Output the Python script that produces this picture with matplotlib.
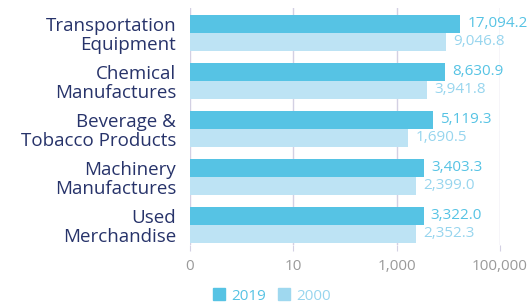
import matplotlib
matplotlib.use("Agg")
import matplotlib.pyplot as plt
from matplotlib.patches import Patch
import numpy as np

categories = ["Transportation\nEquipment", "Chemical\nManufactures", "Beverage &\nTobacco Products",
              "Machinery\nManufactures", "Used\nMerchandise"]
v2019 = [17094.2, 8630.9, 5119.3, 3403.3, 3322.0]
v2000 = [9046.8, 3941.8, 1690.5, 2399.0, 2352.3]
ticks = [0.1, 10, 1000, 100000]
tick_labels = ["0", "10", "1,000", "100,000"]

c2019 = "#56c3e4"
c2000 = "#bde3f4"
c2000_txt = "#97d5ee"
navy = "#27336a"
grid = "#d3d0e3"

plt.rcParams['font.family'] = ['Open Sans', 'DejaVu Sans']

fig = plt.figure(figsize=(5.32, 3.04), dpi=100)
ax = fig.add_axes([190/532, 1-245/304, 310/532, 237/304])

y = np.arange(len(categories))
h = 0.375
ax.barh(y - h/2, v2019, height=h, color=c2019, zorder=2)
ax.barh(y + h/2, v2000, height=h, color=c2000, zorder=2)

for i in range(len(categories)):
    ax.annotate("{:,.1f}".format(v2019[i]), (v2019[i], y[i] - h/2), xytext=(5, 0),
                textcoords="offset points", va="center", ha="left", color=c2019,
                fontsize=11, annotation_clip=False)
    ax.annotate("{:,.1f}".format(v2000[i]), (v2000[i], y[i] + h/2), xytext=(5, 0),
                textcoords="offset points", va="center", ha="left", color=c2000_txt,
                fontsize=11, annotation_clip=False)

ax.set_xscale("log")
ax.set_xlim(0.1, 100000)
ax.set_ylim(len(categories) - 1 + 0.417, -0.52)
ax.set_xticks(ticks)
ax.set_xticklabels(tick_labels)
ax.minorticks_off()
ax.set_yticks(y)
ax.set_yticklabels(categories, color=navy, fontsize=13.5, linespacing=1.05)
ax.tick_params(axis="y", length=0, pad=10)
ax.tick_params(axis="x", length=4, color=grid, labelcolor="#9a9a9a", labelsize=11, pad=6)
ax.grid(axis="x", color=grid, linewidth=1, zorder=0)
for s in ax.spines.values():
    s.set_visible(False)

handles = [Patch(color=c2019, label="2019"), Patch(color="#9fd8ef", label="2000")]
leg = fig.legend(handles=handles, loc="center", bbox_to_anchor=(272/532, 1-296/304), ncol=2,
                 frameon=False, fontsize=11, handlelength=0.8, handleheight=0.8,
                 handletextpad=0.4, columnspacing=0.8)
leg.get_texts()[0].set_color(c2019)
leg.get_texts()[1].set_color(c2000_txt)

plt.savefig("out.png", dpi=100)
